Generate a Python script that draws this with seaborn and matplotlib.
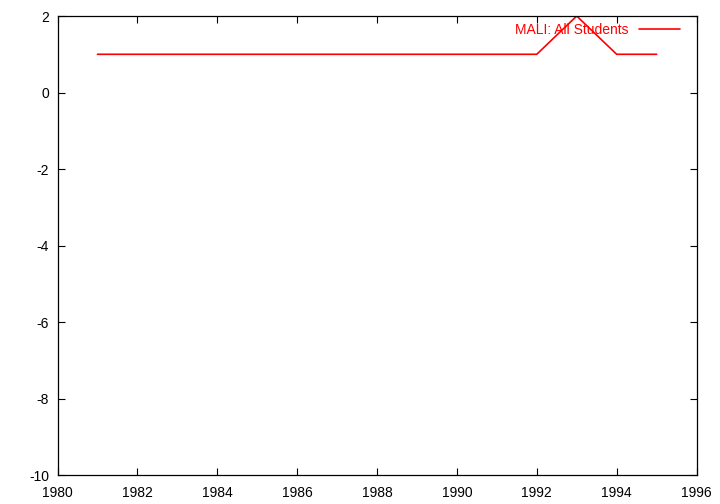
import matplotlib
matplotlib.use("Agg")
import matplotlib.pyplot as plt
import seaborn as sns
import pandas as pd

years = [1981, 1982, 1983, 1984, 1985, 1986, 1987, 1988, 1989, 1990, 1991, 1992, 1993, 1994, 1995]
values = [1, 1, 1, 1, 1, 1, 1, 1, 1, 1, 1, 1, 2, 1, 1]
series_name = "MALI: All Students"
x_ticks = [1980, 1982, 1984, 1986, 1988, 1990, 1992, 1994, 1996]
y_ticks = [-10, -8, -6, -4, -2, 0, 2]

df = pd.DataFrame({"year": years, "value": values})

sns.set_style("white")
plt.rcParams["font.family"] = ["Liberation Sans", "DejaVu Sans"]

fig = plt.figure(figsize=(7.2, 5.04), dpi=100)
ax = fig.add_axes([0.0799, 0.0575, 0.8875, 0.9107])

sns.lineplot(data=df, x="year", y="value", ax=ax, color="#ff0000",
             linewidth=1.2, label=series_name)

ax.set_xlim(1980, 1996)
ax.set_ylim(-10, 2)
ax.set_xticks(x_ticks)
ax.set_yticks(y_ticks)
ax.set_xticklabels([str(t) for t in x_ticks])
ax.set_yticklabels([str(t) for t in y_ticks])
ax.set_xlabel("")
ax.set_ylabel("")
ax.tick_params(direction="in", length=5, width=0.8, top=True, right=True,
               bottom=True, left=True, labelsize=10, colors="black")
ax.tick_params(axis="x", pad=8)
ax.tick_params(axis="y", pad=6)
for s in ax.spines.values():
    s.set_color("black")
    s.set_linewidth(0.9)
    s.set_visible(True)

leg = ax.legend(loc="upper right", bbox_to_anchor=(0.9734, 0.985),
                frameon=False, markerfirst=False, fontsize=10,
                handlelength=2.9, borderaxespad=0, borderpad=0,
                handletextpad=0.75)
for t in leg.get_texts():
    t.set_color("#ff0000")

fig.savefig("out.png", dpi=100)
